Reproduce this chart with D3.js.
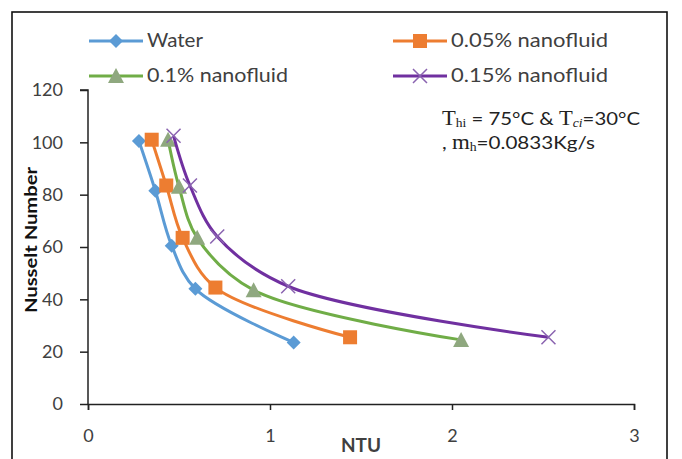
<!DOCTYPE html>
<html>
<head>
<meta charset="utf-8">
<script src="https://cdn.jsdelivr.net/npm/d3@7"></script>
<style>
  body { margin: 0; background: #fff; }
  svg { display: block; font-family: Lato, "Open Sans", sans-serif; }
</style>
</head>
<body>
<svg width="682" height="459"></svg>
<script>
// values
const seriesNames = ["Water", "0.05% nanofluid", "0.1% nanofluid", "0.15% nanofluid"];
const waterNTU = [0.28, 0.37, 0.46, 0.59, 1.13];
const waterNu  = [100.5, 81.5, 60.5, 44, 23.5];
const nf005NTU = [0.35, 0.43, 0.52, 0.70, 1.44];
const nf005Nu  = [101, 83.5, 63.5, 44.5, 25.5];
const nf01NTU  = [0.44, 0.50, 0.60, 0.91, 2.05];
const nf01Nu   = [101, 83, 63.5, 43.5, 24.5];
const nf015NTU = [0.47, 0.56, 0.71, 1.10, 2.53];
const nf015Nu  = [102.5, 83.5, 64, 45, 25.5];
const xTicks = [0, 1, 2, 3];
const yTicks = [0, 20, 40, 60, 80, 100, 120];

const lineColors = ["#5b9bd5", "#ed7d31", "#70ad47", "#7030a0"];
const markerColors = ["#5b9bd5", "#ed7d31", "#8fa87f", "#8a63b0"];
const markerKinds = ["diamond", "square", "triangle", "cross"];

const series = [
  [waterNTU, waterNu], [nf005NTU, nf005Nu], [nf01NTU, nf01Nu], [nf015NTU, nf015Nu]
].map(function(s, i) {
  return { name: seriesNames[i], pts: s[0].map((x, j) => [x, s[1][j]]) };
});

const svg = d3.select("svg");
const x = d3.scaleLinear().domain([0, 3]).range([88, 634]);
const y = d3.scaleLinear().domain([0, 120]).range([404, 90]);

svg.append("rect").attr("width", 682).attr("height", 459).attr("fill", "#fff");
svg.append("rect")
  .attr("x", 12).attr("y", 12).attr("width", 655).attr("height", 470)
  .attr("fill", "none").attr("stroke", "#111").attr("stroke-width", 1.6);

// axes
const xAxis = svg.append("g").attr("transform", "translate(0,404)")
  .call(d3.axisBottom(x).tickValues(xTicks).tickFormat(d3.format("d")).tickSize(6).tickPadding(19));
const yAxis = svg.append("g").attr("transform", "translate(88,0)")
  .call(d3.axisLeft(y).tickValues(yTicks).tickSize(8).tickPadding(17));
[xAxis, yAxis].forEach(function(a) {
  a.select(".domain").attr("stroke", "#222").attr("stroke-width", 1.5);
  a.selectAll(".tick line").attr("stroke", "#222").attr("stroke-width", 1.5);
  a.selectAll(".tick text").attr("fill", "#404040").attr("font-size", 18)
    .attr("font-family", "Lato, sans-serif");
});
yAxis.select(".domain").attr("d", "M-8,90H0V404");

// axis titles
svg.append("text").attr("x", 361).attr("y", 452).attr("text-anchor", "middle")
  .attr("font-size", 18).attr("font-weight", "bold").attr("fill", "#404040")
  .attr("textLength", 40).attr("lengthAdjust", "spacingAndGlyphs").text("NTU");
svg.append("text").attr("transform", "translate(37,240) rotate(-90)").attr("text-anchor", "middle")
  .attr("font-size", 17).attr("font-weight", "bold").attr("fill", "#111")
  .attr("textLength", 146).attr("lengthAdjust", "spacingAndGlyphs").text("Nusselt Number");

// smooth lines
const line = d3.line().x(d => x(d[0])).y(d => y(d[1])).curve(d3.curveCatmullRom.alpha(0.5));

function drawMarker(g, kind, color) {
  if (kind === "diamond") {
    g.append("path").attr("d", "M0,-7L7,0L0,7L-7,0Z").attr("fill", color);
  } else if (kind === "square") {
    g.append("rect").attr("x", -7).attr("y", -7).attr("width", 14).attr("height", 14).attr("fill", color);
  } else if (kind === "triangle") {
    g.append("path").attr("d", "M0,-8L8,7H-8Z").attr("fill", color);
  } else {
    g.append("path").attr("d", "M-7,-7L7,7M-7,7L7,-7").attr("stroke", color).attr("stroke-width", 1.5);
  }
}

series.forEach(function(s, i) {
  svg.append("path").datum(s.pts).attr("d", line)
    .attr("fill", "none").attr("stroke", lineColors[i]).attr("stroke-width", 3);
  s.pts.forEach(function(p) {
    const g = svg.append("g").attr("transform", "translate(" + x(p[0]) + "," + y(p[1]) + ")");
    drawMarker(g, markerKinds[i], markerColors[i]);
  });
});

// legend
const legendPos = [[89, 41], [393, 41], [89, 76], [393, 76]];
const legendWidths = [56, 157, 141, 157];
seriesNames.forEach(function(name, i) {
  const lx = legendPos[i][0], ly = legendPos[i][1];
  svg.append("line").attr("x1", lx).attr("x2", lx + 54).attr("y1", ly).attr("y2", ly)
    .attr("stroke", lineColors[i]).attr("stroke-width", 3);
  const g = svg.append("g").attr("transform", "translate(" + (lx + 27) + "," + ly + ")");
  drawMarker(g, markerKinds[i], markerColors[i]);
  svg.append("text").attr("x", lx + 58).attr("y", ly + 6).attr("font-size", 19)
    .attr("textLength", legendWidths[i]).attr("lengthAdjust", "spacingAndGlyphs")
    .attr("fill", "#404040").text(name);
});

// annotation
const serif = "'Liberation Serif', 'DejaVu Serif', serif";
const ann1 = svg.append("text").attr("x", 442).attr("y", 125).attr("font-size", 18).attr("fill", "#222")
  .attr("textLength", 198).attr("lengthAdjust", "spacingAndGlyphs");
ann1.append("tspan").attr("font-family", serif).attr("font-size", 20).text("T");
ann1.append("tspan").attr("font-family", serif).attr("font-size", 12).attr("dy", 2).text("hi");
ann1.append("tspan").attr("dy", -2).text(" = 75°C & ");
ann1.append("tspan").attr("font-family", serif).attr("font-size", 20).text("T");
ann1.append("tspan").attr("font-family", serif).attr("font-size", 12).attr("font-style", "italic").attr("dy", 2).text("ci");
ann1.append("tspan").attr("dy", -2).text("=30°C");
const ann2 = svg.append("text").attr("x", 442).attr("y", 149).attr("font-size", 18).attr("fill", "#222")
  .attr("textLength", 153).attr("lengthAdjust", "spacingAndGlyphs");
ann2.append("tspan").text(", ");
ann2.append("tspan").attr("font-family", serif).attr("font-size", 20).text("m");
ann2.append("tspan").attr("font-family", serif).attr("font-size", 12).attr("dy", 2).text("h");
ann2.append("tspan").attr("dy", -2).text("=0.0833Kg/s");
</script>
</body>
</html>
